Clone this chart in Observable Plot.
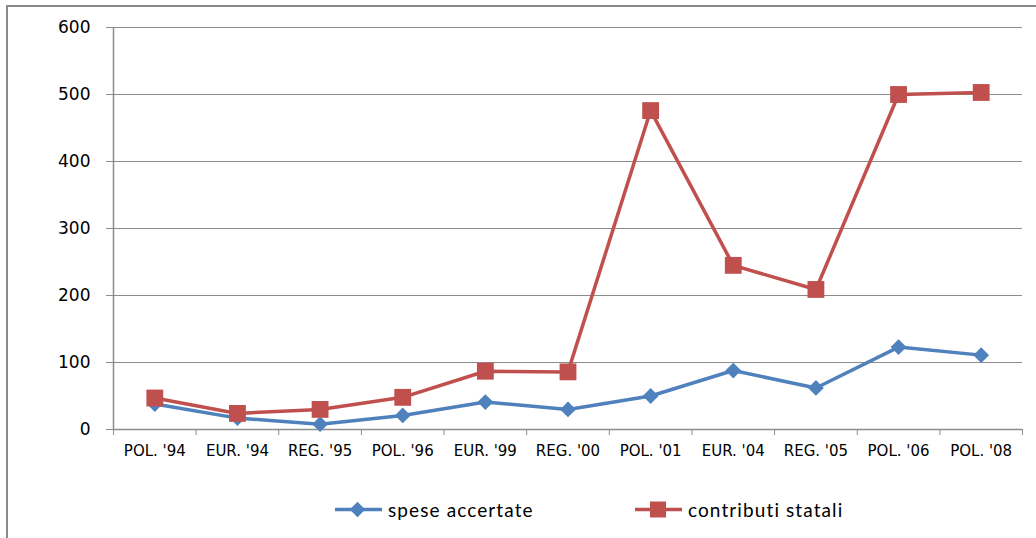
<!DOCTYPE html>
<html><head><meta charset="utf-8">
<script src="https://cdn.jsdelivr.net/npm/d3@7"></script>
<script src="https://cdn.jsdelivr.net/npm/@observablehq/plot@0.6"></script>
<style>
body{margin:0;background:#fff;width:1036px;height:538px;overflow:hidden;position:relative;}
#frame{position:absolute;left:6px;top:5px;width:1040px;height:540px;border-left:2px solid #8a8a8a;border-top:2px solid #8a8a8a;}
#chart{position:absolute;left:0;top:0;}
#legend{position:absolute;top:0;left:0;font-family:Lato,"Open Sans",sans-serif;font-size:19px;letter-spacing:1.1px;color:#000;}
.item{position:absolute;display:flex;align-items:center;white-space:nowrap;}
.item svg{margin-right:6px;}
</style></head>
<body>
<div id="frame"></div>
<div id="chart"></div>
<div id="legend"></div>
<script>
const categories = ["POL. '94","EUR. '94","REG. '95","POL. '96","EUR. '99","REG. '00","POL. '01","EUR. '04","REG. '05","POL. '06","POL. '08"];
const speseAccertate = [38,17,8,21,41,30,50,88,62,123,111];
const contributiStatali = [47,24,30,48,87,86,476,245,209,500,503];
const yTicks = [0,100,200,300,400,500,600];
const seriesNames = ["spese accertate","contributi statali"];
const seriesColors = ["#4f81bd","#c0504d"];

const rows = categories.map((c,i)=>({i, c, spese: speseAccertate[i], contributi: contributiStatali[i]}));
const pos = d => d.i + 0.5;

const chart = Plot.plot({
  width: 1036,
  height: 480,
  marginLeft: 113,
  marginRight: 14,
  marginTop: 27,
  marginBottom: 51,
  style: {fontFamily: "DejaVu Sans", fontSize: "15px", color: "#000", background: "transparent"},
  x: {domain: [0, categories.length]},
  y: {domain: [0, 600]},
  marks: [
    Plot.ruleY(yTicks.slice(1), {stroke: "#8c8c8c", strokeWidth: 1}),
    Plot.ruleX([0], {stroke: "#8c8c8c", strokeWidth: 1.5}),
    Plot.ruleY([0], {stroke: "#8c8c8c", strokeWidth: 1.5}),
    Plot.axisY({ticks: yTicks, tickSize: 7, tickPadding: 16, stroke: "#8c8c8c", fill: "#000", fontSize: 17, label: null}),
    Plot.axisX({ticks: d3.range(0, categories.length + 1), tickSize: 6, tickFormat: () => "", stroke: "#8c8c8c", label: null}),
    Plot.axisX({ticks: d3.range(categories.length).map(i => i + 0.5), tickSize: 0, tickPadding: 16, tickFormat: d => categories[Math.floor(d)], fill: "#000", fontSize: 15, label: null}),
    Plot.line(rows, {x: pos, y: "spese", stroke: seriesColors[0], strokeWidth: 3.5}),
    Plot.dot(rows, {x: pos, y: "spese", symbol: "square", rotate: 45, r: 6.3, fill: seriesColors[0], stroke: "none"}),
    Plot.line(rows, {x: pos, y: "contributi", stroke: seriesColors[1], strokeWidth: 3.5}),
    Plot.dot(rows, {x: pos, y: "contributi", symbol: "square", r: 9.5, fill: seriesColors[1], stroke: "none"})
  ]
});
document.getElementById("chart").appendChild(chart);

// legend
const legend = document.getElementById("legend");
const legendX = [335, 635];
seriesNames.forEach((name, k) => {
  const item = document.createElement("div");
  item.className = "item";
  item.style.left = legendX[k] + "px";
  item.style.top = "498px";
  const marker = k === 0
    ? `<rect x="17" y="4" width="11" height="11" fill="${seriesColors[0]}" transform="rotate(45 22.5 9.5)"/>`
    : `<rect x="15" y="1.5" width="16" height="16" fill="${seriesColors[1]}"/>`;
  item.innerHTML = `<svg width="47" height="19"><line x1="0" y1="9.5" x2="47" y2="9.5" stroke="${seriesColors[k]}" stroke-width="3.5"/>${marker}</svg><span>${name}</span>`;
  legend.appendChild(item);
});
</script>
</body></html>
